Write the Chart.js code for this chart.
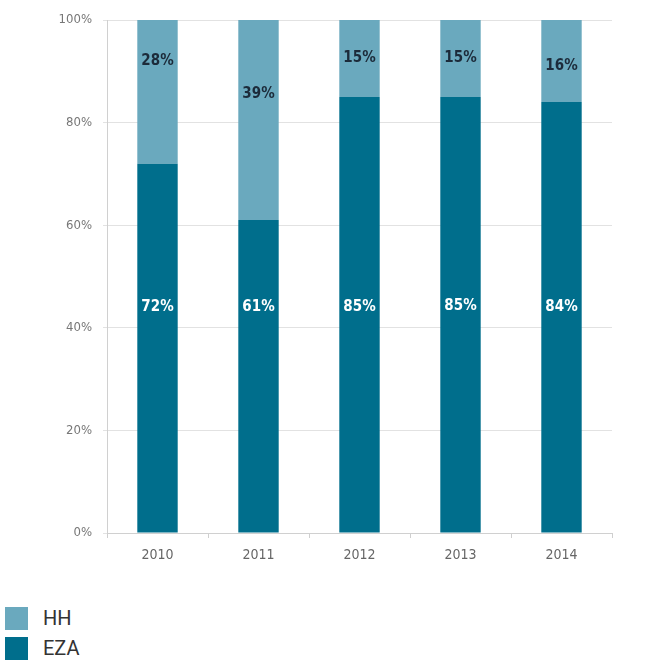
<!DOCTYPE html>
<html>
<head>
<meta charset="utf-8">
<script src="https://cdn.jsdelivr.net/npm/chart.js@4"></script>
<style>
  body { margin: 0; background: #fff; }
  #wrap { width: 671px; height: 580px; position: relative; }
  #legend { margin-top: 23px; font-family: Roboto, sans-serif; font-size: 20px; color: #333; }
  .item { display: flex; align-items: center; height: 30px; }
  .box { width: 23px; height: 23px; margin-left: 5px; margin-right: 15px; }
</style>
</head>
<body>
<div id="wrap"><canvas id="barChart"></canvas></div>
<div id="legend"></div>
<script>
const years = ["2010", "2011", "2012", "2013", "2014"];
const hh = [28, 39, 15, 15, 16];
const eza = [72, 61, 85, 85, 84];
// where the percentage labels sit (value on the y axis)
const hhLabelAt = [92, 85.5, 92.5, 92.5, 91];
const ezaLabelAt = [44, 44, 44, 44.2, 44];
const yTicks = [0, 20, 40, 60, 80, 100];

const colHH = "#6aa9be";
const colEZA = "#006e8c";

const labelPlugin = {
    id: "barLabels",
    afterDatasetsDraw(chart) {
        const ctx = chart.ctx;
        const y = chart.scales.y;
        ctx.save();
        ctx.font = "bold 15px 'DejaVu Sans Condensed', 'DejaVu Sans', sans-serif";
        ctx.textAlign = "center";
        ctx.textBaseline = "middle";
        chart.getDatasetMeta(0).data.forEach((bar, i) => {
            ctx.fillStyle = "#ffffff";
            ctx.fillText(eza[i] + "%", bar.x, y.getPixelForValue(ezaLabelAt[i]));
        });
        chart.getDatasetMeta(1).data.forEach((bar, i) => {
            ctx.fillStyle = "#1c2b3a";
            ctx.fillText(hh[i] + "%", bar.x, y.getPixelForValue(hhLabelAt[i]));
        });
        ctx.restore();
    },
};

const ctx = document.getElementById("barChart").getContext("2d");
new Chart(ctx, {
    type: "bar",
    data: {
        labels: years,
        datasets: [
            { label: "EZA", data: eza, backgroundColor: colEZA, barPercentage: 0.4, categoryPercentage: 1 },
            { label: "HH", data: hh, backgroundColor: colHH, barPercentage: 0.4, categoryPercentage: 1 },
        ],
    },
    options: {
        responsive: true,
        maintainAspectRatio: false,
        animation: false,
        layout: { padding: { top: 20, right: 59, left: 0, bottom: 0 } },
        scales: {
            x: {
                stacked: true,
                afterFit: (s) => { s.height = 47; },
                grid: { offset: true, drawOnChartArea: false, tickLength: 5, color: "#cfcfcf" },
                border: { color: "#d0d0d0" },
                ticks: { color: "#666", padding: 9, font: { family: "'DejaVu Sans Condensed', sans-serif", size: 14 } },
            },
            y: {
                stacked: true,
                min: 0,
                max: 100,
                afterFit: (s) => { s.width = 107; },
                afterBuildTicks: (s) => { s.ticks = yTicks.map((v) => ({ value: v })); },
                grid: { color: "#e2e2e2", tickLength: 4 },
                border: { color: "#d0d0d0" },
                ticks: {
                    color: "#777",
                    padding: 11,
                    font: { family: "'DejaVu Sans Condensed', sans-serif", size: 13 },
                    callback: (v) => v + "%",
                },
            },
        },
        plugins: {
            legend: { display: false },
            tooltip: { enabled: false },
        },
    },
    plugins: [labelPlugin],
});

// legend below the chart, HH on top
const legend = document.getElementById("legend");
[["HH", colHH], ["EZA", colEZA]].forEach(([name, c]) => {
    const row = document.createElement("div");
    row.className = "item";
    row.innerHTML = '<span class="box" style="background:' + c + '"></span>' + name;
    legend.appendChild(row);
});
</script>
</body>
</html>
